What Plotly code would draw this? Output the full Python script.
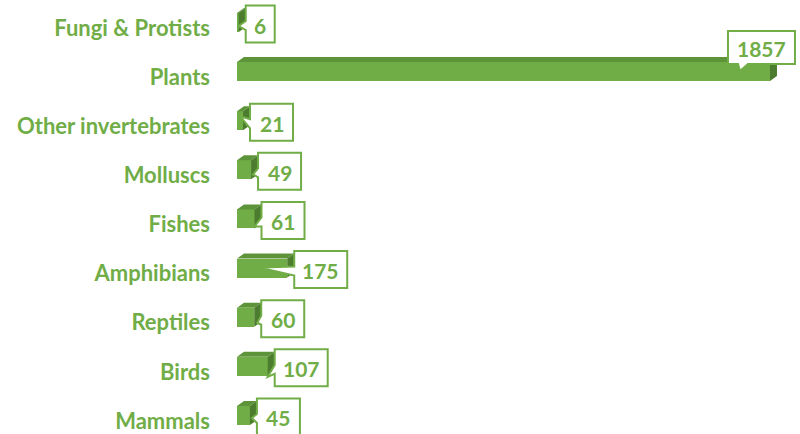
import plotly.graph_objects as go

# ---- data ----
categories = ["Fungi & Protists", "Plants", "Other invertebrates", "Molluscs",
              "Fishes", "Amphibians", "Reptiles", "Birds", "Mammals"]
values = [6, 1857, 21, 49, 61, 175, 60, 107, 45]
label_text = [str(v) for v in values]

# ---- styles ----
GREEN = "#70AD47"
TOP_C = "#5E9439"
SIDE_C = "#4C7C2D"
FONT = "Lato"

W, H = 800, 434
ML = 237
PW = W - ML
PH = H
XMAX = 1961.6
Y_TOP, Y_BOT = -0.570, 8.265
kx = XMAX / PW                 # data units per pixel (x)
ky = (Y_BOT - Y_TOP) / PH      # data units per pixel (y, screen-down)

pos = list(range(len(categories)))

# callout pointer tips (screen px relative to bar end / category centre)
tips = [(0, -2), (-30, -6), (-3, -10), (2, -1), (0, 2), (-27, -6), (3, 0), (0, 5), (2, -3)]
box_w = {1: 29, 2: 43, 3: 53, 4: 67}
DEPTH_X, DEPTH_Y = 7, 5
FRONT_TOP, FRONT_BOT = -15, 4

fig = go.Figure()
fig.add_trace(go.Bar(
    x=values, y=pos, orientation="h",
    width=(FRONT_BOT - FRONT_TOP) * ky, offset=FRONT_TOP * ky,
    marker=dict(color=GREEN, line=dict(width=0)),
    hoverinfo="x+text", text=categories, textposition="none",
))

def X(v, px):
    return v + px * kx

def Y(p, py):
    return p + py * ky

shapes = []
annotations = []
for p, v, t, tip in zip(pos, values, label_text, tips):
    # top face
    path = (f"M{X(0,0)},{Y(p,FRONT_TOP)} L{X(v,0)},{Y(p,FRONT_TOP)} "
            f"L{X(v,DEPTH_X)},{Y(p,FRONT_TOP-DEPTH_Y)} L{X(0,DEPTH_X)},{Y(p,FRONT_TOP-DEPTH_Y)} Z")
    shapes.append(dict(type="path", path=path, xref="x", yref="y",
                       fillcolor=TOP_C, line=dict(width=0), layer="above"))
    # side face
    path = (f"M{X(v,0)},{Y(p,FRONT_TOP)} L{X(v,DEPTH_X)},{Y(p,FRONT_TOP-DEPTH_Y)} "
            f"L{X(v,DEPTH_X)},{Y(p,FRONT_BOT-DEPTH_Y)} L{X(v,0)},{Y(p,FRONT_BOT)} Z")
    shapes.append(dict(type="path", path=path, xref="x", yref="y",
                       fillcolor=SIDE_C, line=dict(width=0), layer="above"))

for p, v, t, tip in zip(pos, values, label_text, tips):
    w = box_w[len(t)]
    tx, ty = tip
    if v == max(values):
        L, R, T, B = -42, 25, -46, -13
        path = (f"M{X(v,L)},{Y(p,T)} L{X(v,R)},{Y(p,T)} L{X(v,R)},{Y(p,B)} "
                f"L{X(v,-22)},{Y(p,B)} L{X(v,tx)},{Y(p,ty)} L{X(v,-32)},{Y(p,B)} "
                f"L{X(v,L)},{Y(p,B)} Z")
    else:
        L = 7
        R = L + w
        T, B = -22.5, 14.5
        path = (f"M{X(v,L)},{Y(p,T)} L{X(v,R)},{Y(p,T)} L{X(v,R)},{Y(p,B)} "
                f"L{X(v,L)},{Y(p,B)} L{X(v,L)},{Y(p,2)} L{X(v,tx)},{Y(p,ty)} "
                f"L{X(v,L)},{Y(p,-7)} Z")
    cx, cy = (L + R) / 2, (T + B) / 2
    shapes.append(dict(type="path", path=path, xref="x", yref="y",
                       fillcolor="white", line=dict(color=GREEN, width=2), layer="above"))
    annotations.append(dict(x=X(v, cx), y=Y(p, cy + 1), xref="x", yref="y", text=f"<b>{t}</b>",
                            showarrow=False, xanchor="center", yanchor="middle",
                            font=dict(family=FONT, size=21, color=GREEN)))

fig.update_layout(
    width=W, height=H,
    margin=dict(l=ML, r=0, t=0, b=0),
    paper_bgcolor="white", plot_bgcolor="white",
    showlegend=False,
    shapes=shapes, annotations=annotations,
    xaxis=dict(range=[0, XMAX], visible=False),
    yaxis=dict(range=[Y_BOT, Y_TOP], tickmode="array", tickvals=pos,
               ticktext=[f"<b>{c}</b>" for c in categories],
               tickfont=dict(family=FONT, size=22, color=GREEN),
               showgrid=False, zeroline=False, showline=False, ticks="",
               ticklabelstandoff=26, automargin=False),
    bargap=0,
)

fig.write_html("out.html", config={"displayModeBar": False},
               post_script="document.body.style.margin='0px';document.body.style.overflow='hidden';")
